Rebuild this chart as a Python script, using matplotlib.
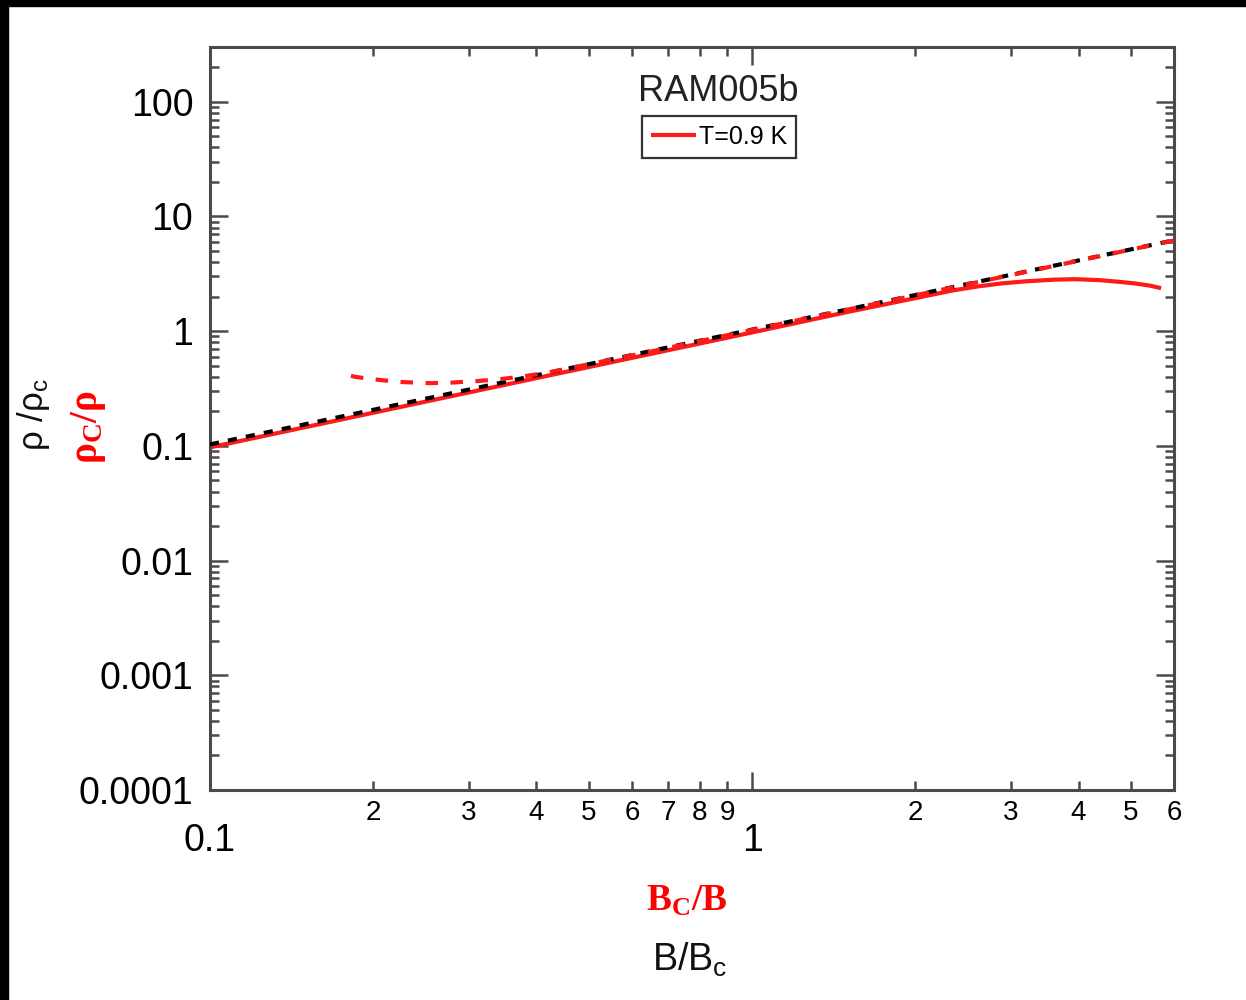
import matplotlib.pyplot as plt
from matplotlib.patches import Rectangle
from matplotlib.ticker import FixedLocator, FuncFormatter, LogLocator, NullFormatter
import numpy as np

plt.rcParams['font.family'] = ['Liberation Sans', 'DejaVu Sans']
plt.rcParams['mathtext.fontset'] = 'custom'
plt.rcParams['mathtext.rm'] = 'Liberation Sans'
plt.rcParams['mathtext.sf'] = 'Liberation Sans'
plt.rcParams['mathtext.it'] = 'Liberation Sans:italic'
plt.rcParams['mathtext.bf'] = 'Liberation Serif:bold'

# rho/rho_c vs B/B_c at T = 0.9 K
b_ratio = [0.1, 0.3, 1.0, 1.5, 2.0, 2.34, 2.6, 2.89, 3.2, 3.6, 3.94, 4.4, 4.8, 5.1, 5.4, 5.68]
rho_ratio = [0.097, 0.292, 0.975, 1.47, 1.94, 2.26, 2.45, 2.61, 2.72, 2.81, 2.84, 2.78, 2.68, 2.6, 2.5, 2.37]

# reference line rho/rho_c ~ B/B_c
ref_x = [0.1, 6.0]
ref_y = [0.103, 6.2]

x_major = [0.1, 1.0]
x_minor = [0.2, 0.3, 0.4, 0.5, 0.6, 0.7, 0.8, 0.9, 2, 3, 4, 5, 6]

line_col = '#4a4a4a'

fig = plt.figure(figsize=(12.46, 10), dpi=100)
ax = fig.add_axes([210 / 1246, 0.21, 964 / 1246, 0.743])

bx = np.array(b_ratio)
ry = np.array(rho_ratio)
ax.plot(bx, ry, color='#ff1a1a', lw=3.0, solid_capstyle='butt', zorder=2)
ax.plot(ref_x, ref_y, color='black', lw=3.0, dashes=(2.2, 2.2), dash_capstyle='butt', zorder=3)
# inverted curve: rho_c/rho vs B_c/B
ax.plot(1 / bx, 1 / ry, color='#ff1a1a', lw=3.0, dashes=(3.0, 3.0), dash_capstyle='butt', zorder=4)

ax.set_xscale('log')
ax.set_yscale('log')
ax.set_xlim(0.1, 6)
ax.set_ylim(1e-4, 300)

ax.xaxis.set_major_locator(FixedLocator(x_major))
ax.xaxis.set_minor_locator(FixedLocator(x_minor))
ax.xaxis.set_major_formatter(FuncFormatter(lambda v, p: f'{v:g}'))
ax.xaxis.set_minor_formatter(FuncFormatter(lambda v, p: f'{v / 10 ** np.floor(np.log10(v) + 1e-9):.0f}'))

ax.yaxis.set_major_locator(LogLocator(base=10, numticks=20))
ax.yaxis.set_minor_locator(LogLocator(base=10, subs=range(2, 10), numticks=100))
ax.yaxis.set_major_formatter(FuncFormatter(lambda v, p: f'{v:g}'))
ax.yaxis.set_minor_formatter(NullFormatter())

for s in ax.spines.values():
    s.set_color(line_col)
    s.set_linewidth(2.2)

ax.tick_params(which='both', direction='in', top=True, right=True, color=line_col, width=1.8)
ax.tick_params(which='major', length=13)
ax.tick_params(which='minor', length=6.5)
ax.tick_params(axis='y', which='major', labelsize=27, pad=12)
ax.tick_params(axis='x', which='major', labelsize=27, pad=24)
ax.tick_params(axis='x', which='minor', labelsize=20, pad=7)

ax.text(0.527, 0.94, 'RAM005b', transform=ax.transAxes, ha='center', va='center',
        fontsize=26, color='#222222')
ax.legend(['T=0.9 K'], loc='upper left', bbox_to_anchor=(0.448, 0.907), borderaxespad=0,
          fontsize=18, fancybox=False, edgecolor='#333333', framealpha=1,
          handlelength=1.8, handletextpad=0.12, borderpad=0.35)
ax.get_legend().get_frame().set_linewidth(1.6)

fig.text(33 / 1246, 0.585, r'$\mathsf{\rho\ /\rho_c}$', rotation=90, ha='center', va='center',
         fontsize=25, color='#111111')
fig.text(88 / 1246, 0.573, r'$\mathbf{\rho_C/\rho}$', rotation=90, ha='center', va='center',
         fontsize=28, color='red')
fig.text(687 / 1246, 0.099, r'$\mathbf{B_C/B}$', ha='center', va='center',
         fontsize=27, color='red')
fig.text(690 / 1246, 0.04, r'$\mathsf{B/B_c}$', ha='center', va='center',
         fontsize=27, color='#111111')

# dark frame along the top and left edge
fig.patches.append(Rectangle((0, 0.994), 1, 0.006, transform=fig.transFigure, color='black'))
fig.patches.append(Rectangle((0, 0), 8 / 1246, 1, transform=fig.transFigure, color='black'))

fig.savefig('out.png', dpi=100)
